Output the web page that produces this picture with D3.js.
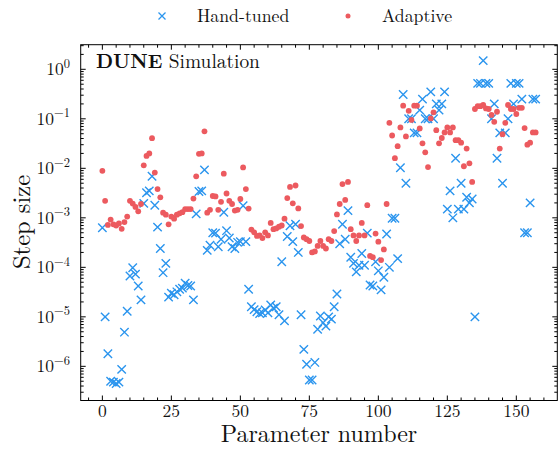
<!DOCTYPE html>
<html><head><meta charset="utf-8">
<script src="https://cdn.jsdelivr.net/npm/d3@7"></script>
<style>body{margin:0;background:#fff}svg{display:block}</style>
</head><body><svg id="c" width="559" height="449"></svg>
<script>
const handTuned = [
6.3e-4,1e-5,1.8e-6,5e-7,4.8e-7,4.5e-7,4.8e-7,8.7e-7,4.9e-6,1.3e-5,
6.7e-5,9.8e-5,7.3e-5,4.2e-5,2.2e-5,1.96e-3,3.2e-3,3.5e-3,6.9e-3,1.8e-3,
6.5e-4,2.4e-4,7.8e-5,1.2e-4,2.5e-5,3e-5,2.8e-5,3.2e-5,3.6e-5,3.8e-5,
4.8e-5,4.3e-5,4.2e-5,2.2e-5,1.2e-3,3.4e-3,3.5e-3,9.3e-3,2.2e-4,2.8e-4,
5e-4,4.9e-4,2.6e-4,3.7e-4,1.3e-3,5.5e-4,3.9e-4,2.6e-4,2.4e-4,3.2e-4,
3.3e-4,1.75e-3,3.3e-4,3.6e-5,1.6e-5,1.4e-5,1.27e-5,1.17e-5,1.2e-5,1.38e-5,
1.2e-5,1.73e-5,1.5e-5,1.6e-5,1.1e-5,1.3e-4,8.3e-6,4.2e-4,6.9e-4,3.3e-4,
7.4e-4,2e-4,1.1e-5,2.2e-6,1.1e-6,5.3e-7,5.3e-7,1.2e-6,5.6e-6,1.04e-5,
7.6e-6,6.5e-6,1e-5,9e-6,1.6e-5,2.9e-5,3e-4,7.4e-4,3.7e-4,1.4e-3,
1.6e-4,1.2e-4,8.1e-5,1.1e-4,1.9e-4,1.1e-4,4.9e-4,4.4e-5,4.2e-5,1.3e-4,
8.5e-5,3.5e-5,6.3e-5,4.7e-4,1e-4,9.8e-4,9.8e-4,1.5e-4,0.0103,0.31,
5e-3,0.1,0.1,0.052,0.052,0.15,0.25,0.1,0.1,0.35,
0.1,0.2,0.15,0.2,0.35,1.5e-3,3.5e-3,1e-3,0.016,1.5e-3,
5e-3,1.5e-3,2.6e-3,2e-3,2.4e-3,1e-5,0.52,0.52,1.5,0.52,
0.52,0.1,0.2,0.016,0.052,5e-3,0.052,0.1,0.52,0.2,
0.52,0.52,0.25,5e-4,5e-4,2e-3,0.25,0.25];
const adaptive = [
8.9e-3,2.2e-3,7.2e-4,9.2e-4,7.4e-4,7e-4,7.7e-4,6e-4,8.2e-4,1.06e-3,
2.2e-3,1.94e-3,1.66e-3,1.35e-3,1.9e-3,0.0115,0.0178,0.02,0.0407,8.2e-3,
3.8e-3,2.6e-3,1.27e-3,1.16e-3,7.4e-4,1.06e-3,9.6e-4,1.16e-3,1.23e-3,1.3e-3,
1.5e-3,1.5e-3,1.5e-3,2.45e-3,6.9e-3,0.0196,0.02,0.056,1.27e-3,1.45e-3,
2.76e-3,2.7e-3,1.45e-3,2.1e-3,7.8e-3,3.1e-3,2.2e-3,1.9e-3,1.4e-3,1.45e-3,
2.4e-3,0.0104,3.8e-3,1.54e-3,5.8e-4,5.1e-4,4.3e-4,4.4e-4,3.9e-4,5.1e-4,
4.4e-4,7.9e-4,5.9e-4,6.1e-4,6.6e-4,7e-4,9.6e-4,2.5e-3,4.2e-3,1.96e-3,
4.5e-3,1.55e-3,6.8e-4,4e-4,3.7e-4,3.4e-4,2e-4,2.1e-4,2.7e-4,3.4e-4,
2.7e-4,2.4e-4,3.7e-4,3.4e-4,5.4e-4,1.17e-3,1.9e-3,4.8e-3,2.3e-3,5.3e-3,
5.9e-4,4.4e-4,3.4e-4,4.4e-4,7.9e-4,4.4e-4,1.8e-3,1.7e-4,1.6e-4,4.8e-4,
3.3e-4,1.4e-4,2.3e-4,1.9e-3,0.083,0.046,0.016,0.028,0.067,0.184,
0.044,0.145,0.095,0.184,0.184,0.064,0.032,0.021,0.0106,0.102,
0.135,0.059,0.032,0.041,0.053,0.067,0.053,0.067,0.037,0.037,
0.033,0.011,0.025,0.0126,0.0053,0.158,0.18,0.18,0.19,0.162,
0.158,0.12,0.087,0.139,0.025,0.049,0.083,0.19,0.158,0.158,
0.125,0.167,0.167,0.065,0.030,0.033,0.053,0.053];
const xTicks = [0,25,50,75,100,125,150];
const yTickExps = [-6,-5,-4,-3,-2,-1,0];
const seriesNames = ["Hand-tuned","Adaptive"];
const blue = "#2b95ee", red = "#ec5a5f";
const FONT = '"Latin Modern Roman"';

const svg = d3.select("#c");
const L=80.7,R=557.3,T=44.7,B=400.5;
const x = d3.scaleLinear().domain([-7.85,164.85]).range([L,R]);
const y = d3.scaleLog().domain([Math.pow(10,-6.69),Math.pow(10,0.497)]).range([B,T]);
const txt = (sel)=>sel.style("font-family",FONT).attr("fill","#111");

svg.append("rect").attr("x",L).attr("y",T).attr("width",R-L).attr("height",B-T)
  .attr("fill","none").attr("stroke","#000").attr("stroke-width",1);

const g = svg.append("g");
d3.range(-5,165,5).forEach(v=>{
  const maj = v%25===0; const len = maj?5:3; const px=x(v);
  g.append("line").attr("x1",px).attr("x2",px).attr("y1",B).attr("y2",B-len).attr("stroke","#000");
  g.append("line").attr("x1",px).attr("x2",px).attr("y1",T).attr("y2",T+len).attr("stroke","#000");
});
xTicks.forEach(v=>{
  g.append("text").attr("x",x(v)).attr("y",417).attr("text-anchor","middle").attr("font-size",17.5).call(txt).text(v);
});
const [ymin,ymax]=y.domain();
for(let e=-7;e<=0;e++){
  for(let k=1;k<=9;k++){
    const v=k*Math.pow(10,e); if(v<ymin||v>ymax) continue;
    const len = k===1?5:3; const py=y(v);
    g.append("line").attr("x1",L).attr("x2",L+len).attr("y1",py).attr("y2",py).attr("stroke","#000");
    g.append("line").attr("x1",R).attr("x2",R-len).attr("y1",py).attr("y2",py).attr("stroke","#000");
  }
}
yTickExps.forEach(e=>{
  const t=g.append("text").attr("x",70).attr("y",y(Math.pow(10,e))+6).attr("text-anchor","end").attr("font-size",17.5).call(txt);
  t.append("tspan").text("10");
  t.append("tspan").attr("dy",-7.5).attr("font-size",12.5).text(e===0?"0":"\u2212"+(-e));
});

svg.append("defs").append("clipPath").attr("id","cp").append("rect").attr("x",L).attr("y",T).attr("width",R-L).attr("height",B-T);
const pg = svg.append("g").attr("clip-path","url(#cp)");
const s=4.2;
pg.selectAll("path.h").data(handTuned).join("path").attr("class","h")
  .attr("d",(d,i)=>{const cx=x(i),cy=y(d);return `M${cx-s},${cy-s}L${cx+s},${cy+s}M${cx-s},${cy+s}L${cx+s},${cy-s}`;})
  .attr("stroke",blue).attr("stroke-width",1.4).attr("fill","none");
pg.selectAll("circle.a").data(adaptive).join("circle").attr("class","a")
  .attr("cx",(d,i)=>x(i)).attr("cy",d=>y(d)).attr("r",2.9).attr("fill",red);

svg.append("text").attr("x",(L+R)/2).attr("y",442).attr("text-anchor","middle").attr("font-size",24).call(txt).text("Parameter number");
svg.append("text").attr("transform","translate(30,222) rotate(-90)").attr("text-anchor","middle").attr("font-size",24.5).call(txt).text("Step size");
const ann = svg.append("text").attr("x",96).attr("y",68).attr("font-size",19.4).call(txt);
ann.append("tspan").attr("font-weight","bold").text("DUNE");
ann.append("tspan").text(" Simulation");

const lg = svg.append("g");
const lx=162, ly=16;
lg.append("path").attr("d",`M${lx-3.5},${ly-3.5}L${lx+3.5},${ly+3.5}M${lx-3.5},${ly+3.5}L${lx+3.5},${ly-3.5}`).attr("stroke",blue).attr("stroke-width",1.3);
lg.append("text").attr("x",197).attr("y",22).attr("font-size",17.8).call(txt).text(seriesNames[0]);
lg.append("circle").attr("cx",348).attr("cy",ly).attr("r",2.5).attr("fill",red);
lg.append("text").attr("x",382).attr("y",22).attr("font-size",17.8).call(txt).text(seriesNames[1]);
</script></body></html>
